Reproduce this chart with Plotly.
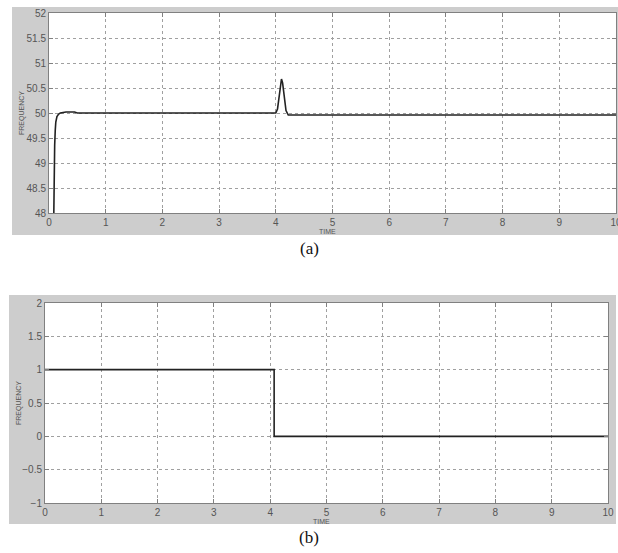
import plotly.graph_objects as go

# ---- data ----
time_a = [0.085, 0.09, 0.10, 0.11, 0.12, 0.14, 0.17, 0.20, 0.30, 0.45, 0.50, 1.0, 4.0,
          4.03, 4.06, 4.08, 4.10, 4.12, 4.15, 4.18, 4.22, 4.30, 10.0]
freq_a = [48.0, 48.9, 49.35, 49.65, 49.82, 49.93, 49.98, 50.0, 50.02, 50.02, 50.0, 50.0, 50.0,
          50.08, 50.35, 50.6, 50.68, 50.6, 50.3, 50.05, 49.96, 49.96, 49.96]

time_b = [0.0, 4.07, 4.07, 10.0]
freq_b = [1.0, 1.0, 0.0, 0.0]

x_ticks = [0, 1, 2, 3, 4, 5, 6, 7, 8, 9, 10]
y_ticks_a = [48, 48.5, 49, 49.5, 50, 50.5, 51, 51.5, 52]
y_ticks_b = [-1, -0.5, 0, 0.5, 1, 1.5, 2]

W, H = 618, 553


def px(x):
    return x / W


def py(y):
    return 1 - y / H


fig = go.Figure()
fig.add_trace(go.Scatter(x=time_a, y=freq_a, mode="lines",
                         line=dict(color="#222222", width=1.6),
                         xaxis="x", yaxis="y", showlegend=False))
fig.add_trace(go.Scatter(x=time_b, y=freq_b, mode="lines",
                         line=dict(color="#222222", width=1.6),
                         xaxis="x2", yaxis="y2", showlegend=False))

axis_common = dict(
    showline=True, mirror="ticks", linecolor="#808080", linewidth=1,
    ticks="inside", ticklen=4, tickcolor="#808080",
    showgrid=True, gridcolor="#a0a0a0", griddash="dot", gridwidth=1,
    zeroline=False, ticklabeloverflow="allow", automargin=False,
    tickfont=dict(family="Liberation Sans, Arial", size=10, color="#555555"),
)

# panel boxes (pixel positions)
A = dict(l=49, r=616, t=13, b=213, gl=12, gr=618, gt=7, gb=235)
B = dict(l=45, r=608, t=303, b=503, gl=9, gr=616, gt=295, gb=524)

fig.update_layout(
    width=W, height=H, margin=dict(l=0, r=0, t=0, b=0, autoexpand=False),
    paper_bgcolor="white", plot_bgcolor="rgba(0,0,0,0)",
    xaxis=dict(domain=[px(A["l"]), px(A["r"])], range=[0, 10], tickvals=x_ticks,
               anchor="y", **axis_common),
    yaxis=dict(domain=[py(A["b"]), py(A["t"])], range=[48, 52], tickvals=y_ticks_a,
               anchor="x", **axis_common),
    xaxis2=dict(domain=[px(B["l"]), px(B["r"])], range=[0, 10], tickvals=x_ticks,
                anchor="y2", **axis_common),
    yaxis2=dict(domain=[py(B["b"]), py(B["t"])], range=[-1, 2], tickvals=y_ticks_b,
                anchor="x2", **axis_common),
)

shapes = []
for P in (A, B):
    shapes.append(dict(type="rect", xref="paper", yref="paper",
                       x0=px(P["gl"]), x1=px(P["gr"]), y0=py(P["gb"]), y1=py(P["gt"]),
                       fillcolor="#cdcdcd", line=dict(width=0), layer="below"))
    shapes.append(dict(type="rect", xref="paper", yref="paper",
                       x0=px(P["l"]), x1=px(P["r"]), y0=py(P["b"]), y1=py(P["t"]),
                       fillcolor="white", line=dict(width=0), layer="below"))
fig.update_layout(shapes=shapes)

ann = []
small = dict(family="Liberation Sans, Arial", size=7, color="#555555")
for P, lab in ((A, "(a)"), (B, "(b)")):
    cx = (P["l"] + P["r"]) / 2
    ann.append(dict(text="TIME", xref="paper", yref="paper", x=px(cx - 5), y=py(P["b"] + 18),
                    showarrow=False, font=small, xanchor="center", yanchor="middle"))
    ann.append(dict(text="FREQUENCY", xref="paper", yref="paper", x=px(P["gl"] + 10),
                    y=py((P["t"] + P["b"]) / 2), textangle=-90,
                    showarrow=False, font=small, xanchor="center", yanchor="middle"))
    ann.append(dict(text=lab, xref="paper", yref="paper", x=px(309), y=py(P["gb"] + 13),
                    showarrow=False, font=dict(family="Liberation Serif, Times New Roman",
                                               size=17, color="#111111"),
                    xanchor="center", yanchor="middle"))
fig.update_layout(annotations=ann)

fig.write_html("out.html", config={"displayModeBar": False},
               post_script="document.body.style.margin='0';document.body.style.overflow='hidden';")
